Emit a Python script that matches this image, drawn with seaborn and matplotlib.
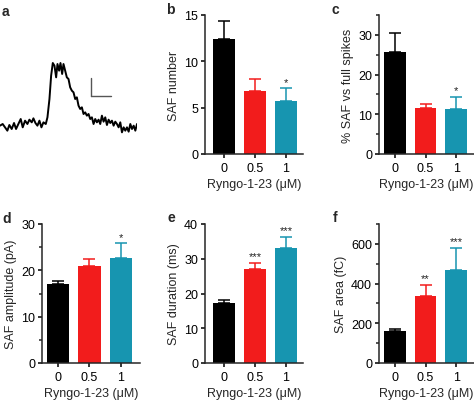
import numpy as np
import pandas as pd
import matplotlib
matplotlib.use("Agg")
import matplotlib.pyplot as plt
from matplotlib.ticker import MultipleLocator
import seaborn as sns

# ---- data ----
conc = ["0", "0.5", "1"]
bar_colors = ["#000000", "#f21c1c", "#1795b0"]

saf_number = [12.4, 6.8, 5.7]
saf_number_err = [1.9, 1.3, 1.4]
saf_number_sig = ["", "", "*"]

saf_pct = [25.7, 11.7, 11.3]
saf_pct_err = [4.8, 0.8, 3.1]
saf_pct_sig = ["", "", "*"]

saf_amp = [17.0, 21.0, 22.6]
saf_amp_err = [0.8, 1.4, 3.3]
saf_amp_sig = ["", "", "*"]

saf_dur = [17.4, 27.0, 33.2]
saf_dur_err = [0.8, 1.9, 3.1]
saf_dur_sig = ["", "***", "***"]

saf_area = [160, 335, 470]
saf_area_err = [12, 60, 110]
saf_area_sig = ["", "**", "***"]

# example SAF trace (ms, pA)
trace_ms = [0, 0.8, 1.5, 2.2, 2.8, 3.5, 4.2, 4.8, 5.5, 6.2,
            6.8, 7.5, 8.2, 8.8, 9.5, 10.0, 10.6, 11.2, 11.8, 12.4,
            13.0, 13.7, 14.2, 14.8, 15.3, 15.8, 16.3, 16.8, 17.2, 17.7,
            18.1, 18.6, 19.0, 19.5, 20.0, 20.5, 21.0, 21.5, 22.0, 22.5,
            23.0, 23.5, 24.0, 24.5, 25.0, 25.5, 26.0, 26.5, 27.0, 27.5,
            28.0, 28.5, 29.0, 29.5, 30.0, 30.5, 31.0, 31.5, 32.0, 32.5,
            33.0, 33.5, 34.0, 34.5, 35.0, 35.5, 36.0, 36.5, 37.0, 37.5,
            38.0, 38.5, 39.0, 39.5, 40.0, 40.5, 41.0]
trace_pa = [1.5, 2.0, 1.0, 0.0, 1.7, 0.5, 2.3, 0.5, 2.0, 3.5,
            1.0, 3.0, 2.0, 3.3, 2.5, 3.7, 2.3, 1.5, 3.0, 1.0,
            2.5, 2.0, 4.0, 9.5, 16.5, 20.3, 19.5, 16.0, 20.0, 18.0,
            20.3, 17.0, 20.0, 18.0, 16.0, 15.5, 13.0, 12.0, 11.5, 9.5,
            10.0, 7.5, 6.5, 7.0, 5.0, 5.5, 4.5, 5.0, 3.5, 4.0,
            2.0, 3.5, 2.5, 3.3, 2.0, 4.5, 2.7, 4.0, 1.7, 3.3,
            2.3, 3.0, 1.5, 2.7, 2.0, 1.0, 2.5, -0.5, 1.0, 0.0,
            1.0, -0.3, 2.0, 0.5, 1.5, 0.0, 2.0]

sns.set_theme(style="ticks")
plt.rcParams["font.family"] = ["Liberation Sans", "DejaVu Sans"]
plt.rcParams["axes.linewidth"] = 1.1
plt.rcParams["xtick.major.width"] = 1.1
plt.rcParams["ytick.major.width"] = 1.1
plt.rcParams["ytick.minor.width"] = 1.1
plt.rcParams["xtick.major.size"] = 3
plt.rcParams["ytick.major.size"] = 3
plt.rcParams["ytick.minor.size"] = 2
plt.rcParams["xtick.major.pad"] = 3
plt.rcParams["ytick.major.pad"] = 2

W, H = 474, 406
fig = plt.figure(figsize=(W / 100, H / 100), dpi=100)


def px_axes(left, top, right, bottom):
    return fig.add_axes([left / W, 1 - bottom / H, (right - left) / W, (bottom - top) / H])


def bar_panel(ax, vals, errs, sig, ylabel, ylim, major, minor, xlim):
    df = pd.DataFrame({"conc": conc, "val": vals})
    sns.barplot(data=df, x="conc", y="val", hue="conc", palette=bar_colors,
                legend=False, width=0.71, saturation=1, ax=ax, edgecolor="none")
    for i, (v, e, c, s) in enumerate(zip(vals, errs, bar_colors, sig)):
        ax.errorbar(i, v, yerr=[[0], [e]], color=c, capsize=4, elinewidth=1.1,
                    capthick=1.1, fmt="none")
        if s:
            ax.annotate(s, (i, v + e), xytext=(0, 1), textcoords="offset points",
                        ha="center", va="bottom", fontsize=8, color="#222222")
    ax.set_ylim(*ylim)
    ax.set_xlim(*xlim)
    ax.yaxis.set_major_locator(MultipleLocator(major))
    if minor:
        ax.yaxis.set_minor_locator(MultipleLocator(minor))
    ax.set_ylabel(ylabel, fontsize=9, labelpad=3)
    ax.set_xlabel("Ryngo-1-23 (μM)", fontsize=9, labelpad=3)
    ax.tick_params(labelsize=9, colors="black")
    sns.despine(ax=ax)


# panel a: trace
ax_a = px_axes(0, 40, 137, 160)
ax_a.plot(trace_ms, trace_pa, color="black", lw=1.4)
ax_a.plot([27.3, 27.3], [10.4, 15.8], color="#555555", lw=1.0)
ax_a.plot([27.3, 33.3], [10.4, 10.4], color="#555555", lw=1.0)
ax_a.set_xlim(0, 41)
ax_a.set_ylim(-8.5, 27.5)
ax_a.axis("off")

ax_b = px_axes(205, 16, 303, 155)
bar_panel(ax_b, saf_number, saf_number_err, saf_number_sig, "SAF number",
          (0, 15), 5, None, (-0.61, 2.55))

ax_c = px_axes(379, 16, 474, 155)
bar_panel(ax_c, saf_pct, saf_pct_err, saf_pct_sig, "% SAF vs full spikes",
          (0, 35), 10, 5, (-0.52, 2.58))

ax_d = px_axes(42, 225, 140, 364)
bar_panel(ax_d, saf_amp, saf_amp_err, saf_amp_sig, "SAF amplitude (pA)",
          (0, 30), 10, 5, (-0.52, 2.62))

ax_e = px_axes(205, 225, 303, 364)
bar_panel(ax_e, saf_dur, saf_dur_err, saf_dur_sig, "SAF duration (ms)",
          (0, 40), 10, None, (-0.61, 2.55))

ax_f = px_axes(379, 225, 474, 364)
bar_panel(ax_f, saf_area, saf_area_err, saf_area_sig, "SAF area (fC)",
          (0, 700), 200, 100, (-0.52, 2.58))

# panel letters
for letter, x, y in [("a", 2, 12), ("b", 166, 10), ("c", 332, 10),
                     ("d", 2, 219), ("e", 168, 218), ("f", 333, 218)]:
    fig.text(x / W, 1 - y / H, letter, fontsize=10, fontweight="bold",
             ha="left", va="center")

fig.savefig("out.png", dpi=100)
